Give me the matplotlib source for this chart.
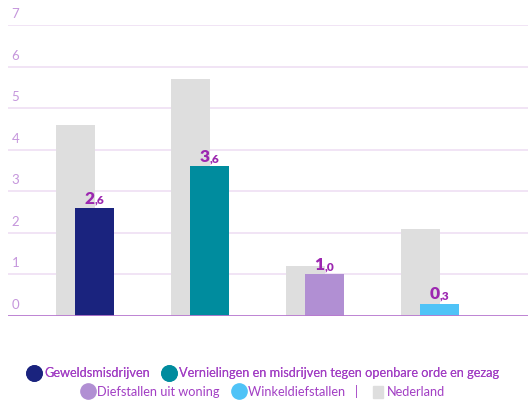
import numpy as np
import matplotlib.pyplot as plt
from matplotlib.lines import Line2D
from matplotlib.patches import Patch

plt.rcParams['font.family'] = ['Lato', 'DejaVu Sans']

# data
categorieen = ["Geweldsmisdrijven",
               "Vernielingen en misdrijven tegen openbare orde en gezag",
               "Diefstallen uit woning",
               "Winkeldiefstallen"]
gemeente = [2.6, 3.6, 1.0, 0.3]
nederland = [4.6, 5.7, 1.2, 2.1]
kleuren = ["#1a237e", "#008c9e", "#b18fd3", "#4fc3f7"]
grijs = "#dedede"
paars = "#9c27b0"
tekst_paars = "#a23fc4"
yticks = [0, 1, 2, 3, 4, 5, 6, 7]

fig = plt.figure(figsize=(5.28, 4.0), dpi=100)
ax = fig.add_axes([8 / 528, 84 / 400, 520 / 528, 291 / 400])

x = np.arange(len(categorieen))
w = 0.34
off = 9.5 / 115

ax.bar(x - off, nederland, width=w, color=grijs, zorder=2)
ax.bar(x + off, gemeente, width=w, color=kleuren, zorder=3)

# waardelabels: groot heel getal, klein decimaal
for xi, v in zip(x, gemeente):
    heel, dec = f"{v:.1f}".split(".")
    ax.annotate(heel, (xi + off, v), xytext=(0, 3), textcoords="offset points",
                ha="right", va="baseline", fontsize=12.5, fontweight="heavy",
                color=paars, zorder=5)
    ax.annotate("," + dec, (xi + off, v), xytext=(0, 3), textcoords="offset points",
                ha="left", va="baseline", fontsize=8.5, fontweight="heavy",
                color=paars, zorder=5)

ax.set_xlim(-0.67, 3.85)
ax.set_ylim(0, 7)
for yv in yticks:
    if yv > 0:
        ax.axhline(yv, color="#efdff3", lw=1.2, zorder=1)
    ax.text(-0.64, yv + 0.12, str(yv), color="#c596dc", fontsize=9.5,
            ha="left", va="bottom")
ax.axhline(0, color="#b878cf", lw=2, zorder=4)

ax.set_xticks([])
ax.set_yticks([])
for s in ax.spines.values():
    s.set_visible(False)

def cirkel(c):
    return Line2D([], [], marker="o", ls="", markersize=11, markerfacecolor=c,
                  markeredgecolor=c)

rij1 = [cirkel(kleuren[0]), cirkel(kleuren[1])]
leg1 = fig.legend(rij1, categorieen[:2], loc="center", bbox_to_anchor=(0.5, 27 / 400),
                  ncol=2, frameon=False, fontsize=9.2, handlelength=0.8,
                  handletextpad=0.35, columnspacing=1.1, labelcolor=tekst_paars)
fig.add_artist(leg1)

rij2 = [cirkel(kleuren[2]), cirkel(kleuren[3]),
        Patch(facecolor=grijs, edgecolor=grijs)]
labels2 = [categorieen[2], categorieen[3] + "   |", "Nederland"]
fig.legend(rij2, labels2, loc="center",
           bbox_to_anchor=(0.5, 8 / 400), ncol=3, frameon=False, fontsize=9.2,
           handlelength=0.8, handleheight=1.0, handletextpad=0.35,
           columnspacing=1.1, labelcolor=tekst_paars)

fig.savefig("out.png", dpi=100)
